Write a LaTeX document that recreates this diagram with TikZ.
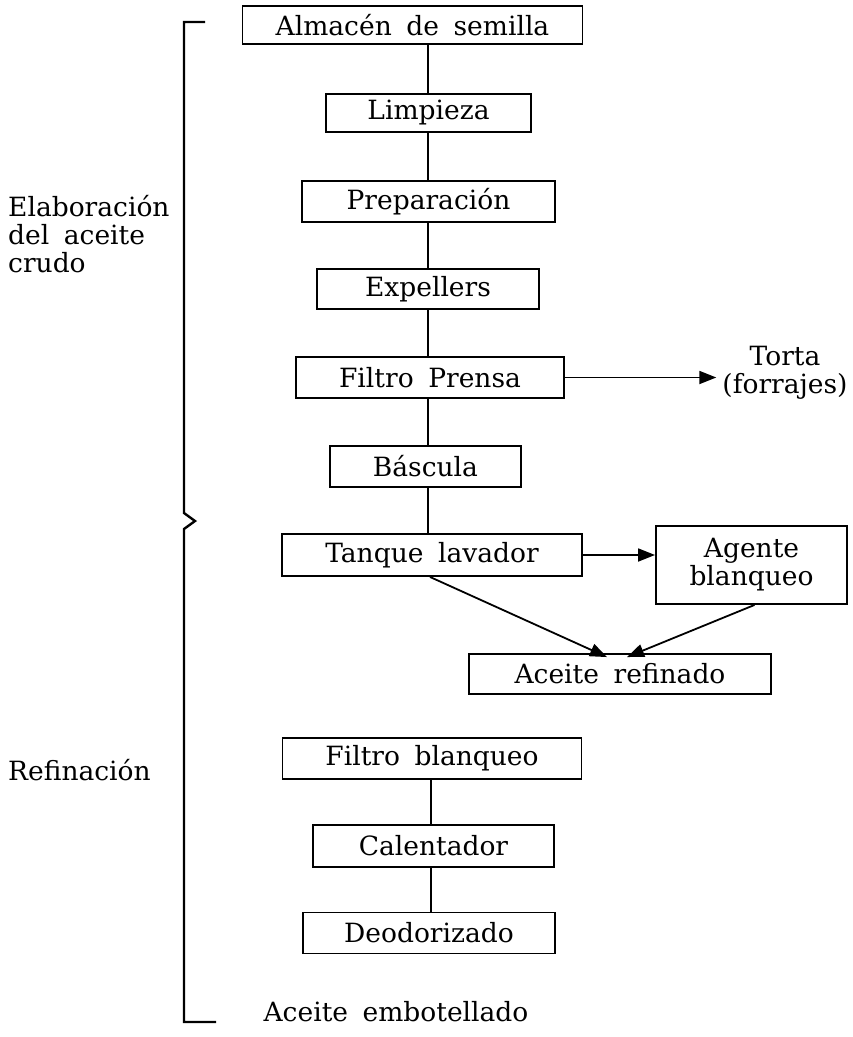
\documentclass[tikz,border=0pt]{standalone}
\usepackage{fontspec}
\setmainfont{DejaVu Serif}
\usetikzlibrary{arrows.meta}
\newcommand\diafont{\fontsize{26.5}{28}\selectfont\spaceskip=0.55em\relax}
\begin{document}
\begin{tikzpicture}[x=1pt,y=-1pt,
  every node/.style={font=\diafont, inner sep=0pt},
  pbox/.style={draw, line width=1.9pt, align=center},
  link/.style={line width=1.8pt},
  arr/.style={line width=1.8pt, -{Triangle[length=17pt,width=13pt]}},
  bracket/.style={line width=2.4pt}]
\useasboundingbox (0,0) rectangle (853,1037);
% spine coordinates
\coordinate (sp1) at (428,0);
\coordinate (sp2) at (431,0);
% boxes
\node[pbox, minimum width=340pt, minimum height=38pt] (alm) at (412.5,25) {Almacén de semilla};
\node[pbox, minimum width=205pt, minimum height=38pt] (lim) at (428.5,113) {Limpieza};
\node[pbox, minimum width=253pt, minimum height=41pt] (prep) at (428.5,201.5) {Preparación};
\node[pbox, minimum width=222pt, minimum height=40pt] (exp) at (428,289) {Expellers};
\node[pbox, minimum width=268pt, minimum height=41pt] (fp) at (430,377.5) {Filtro Prensa};
\node[pbox, minimum width=191pt, minimum height=41pt] (bas) at (425.5,466.5) {Báscula};
\node[pbox, minimum width=300pt, minimum height=42pt] (tan) at (432,555) {Tanque lavador};
\node[pbox, minimum width=191pt, minimum height=78pt] (age) at (751.5,565) {Agente\\blanqueo};
\node[pbox, minimum width=302pt, minimum height=40pt] (ref) at (620,674) {Aceite refinado};
\node[pbox, minimum width=299pt, minimum height=41pt] (fb) at (432,758.5) {Filtro blanqueo};
\node[pbox, minimum width=241pt, minimum height=42pt] (cal) at (433.5,846) {Calentador};
\node[pbox, minimum width=252pt, minimum height=41pt] (deo) at (429,933) {Deodorizado};
% side labels
\node[align=center] (torta) at (785,373) {Torta\\(forrajes)};
\node[align=left, anchor=north west] (elab) at (8,195) {Elaboración\\del aceite\\crudo};
\node[anchor=base west] (refin) at (8,780) {Refinación};
\node[anchor=base] (embot) at (396,1021) {Aceite embotellado};
% bracket
\draw[bracket] (205,22) -- (184,22) -- (184,513) -- (195,521) -- (184,529) -- (184,1022) -- (216,1022);
% connectors
\draw[link] (alm.south -| sp1) -- (lim.north -| sp1);
\draw[link] (lim.south -| sp1) -- (prep.north -| sp1);
\draw[link] (prep.south -| sp1) -- (exp.north -| sp1);
\draw[link] (exp.south -| sp1) -- (fp.north -| sp1);
\draw[link] (fp.south -| sp1) -- (bas.north -| sp1);
\draw[link] (bas.south -| sp1) -- (tan.north -| sp1);
\draw[link] (fb.south -| sp2) -- (cal.north -| sp2);
\draw[link] (cal.south -| sp2) -- (deo.north -| sp2);
\draw[arr, shorten >=6pt] (fp.east) -- (torta.west |- fp.east);
\draw[arr] (tan.east) -- (age.west |- tan.east);
\draw[arr] ([xshift=-2pt]tan.south) -- ([xshift=-13pt,yshift=-4pt]ref.north);
\draw[arr] ([xshift=3pt]age.south) -- ([xshift=7pt,yshift=-4pt]ref.north);
\end{tikzpicture}
\end{document}
